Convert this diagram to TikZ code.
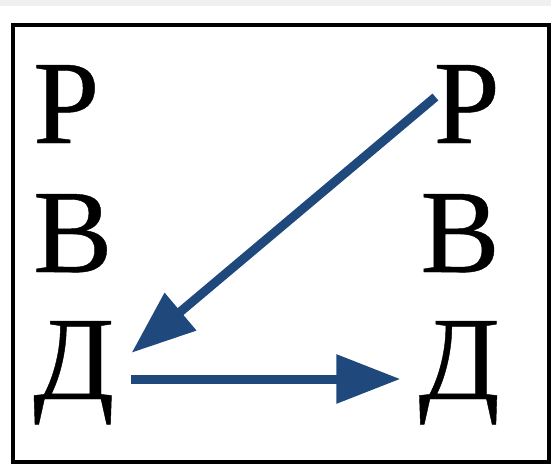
\documentclass[tikz,border=0pt]{standalone}
\usepackage{fontspec}
\setmainfont{Liberation Serif}
\newfontfamily\letterfont[FakeBold=0.35]{Liberation Serif}
\usetikzlibrary{arrows.meta}
\definecolor{arrowblue}{RGB}{31,73,125}
\newcommand{\bigletter}{\letterfont\fontsize{119}{119}\selectfont}
\begin{document}
\begin{tikzpicture}[x=1pt,y=-1pt,
  letter/.style={inner sep=0pt,font=\bigletter,text height=78pt,text depth=0pt},
  arr/.style={arrowblue,line width=9pt,-{Triangle[length=64pt,width=47pt]}}]
  \useasboundingbox (0,0) rectangle (551,463);
  \fill[white] (0,0) rectangle (551,463);
  \fill[gray!12] (0,0) rectangle (551,6);
  \draw[line width=4pt] (12.5,24.5) rectangle (548.5,461.5);
  \foreach \ltr/\y/\nm in {Р/143/p,В/272/v,Д/399/d}{
    \node[letter,anchor=base west] (l\nm) at (33,\y) {\ltr};
    \node[letter,anchor=base east] (r\nm) at (500,\y) {\ltr};
  }
  \draw[arr] ([shift={(2,-7)}]rp.west) -- ([shift={(17,32)}]ld.north east);
  \draw[arr] ([shift={(16,19)}]ld.east) -- ([shift={(-18,19)}]rd.west);
\end{tikzpicture}
\end{document}
